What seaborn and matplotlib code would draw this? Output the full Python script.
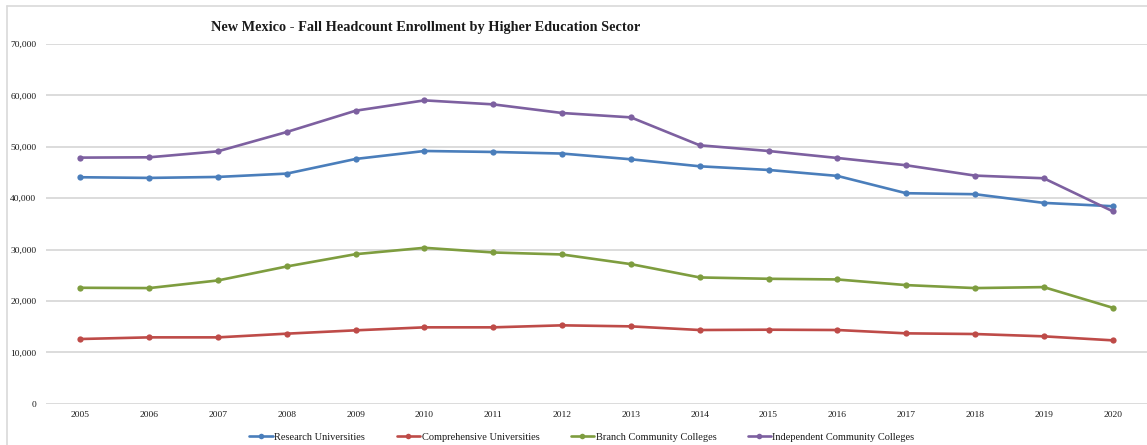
import numpy as np
import pandas as pd
import matplotlib
matplotlib.use("Agg")
import matplotlib.pyplot as plt
from matplotlib.lines import Line2D
import seaborn as sns

years = list(range(2005, 2021))
research = [44070, 43940, 44130, 44780, 47630, 49180, 48990, 48680, 47565, 46200,
            45490, 44330, 40960, 40770, 39080, 38430]
comprehensive = [12590, 12910, 12910, 13630, 14280, 14860, 14860, 15250, 15050, 14340,
                 14400, 14340, 13690, 13560, 13110, 12330]
branch = [22560, 22500, 23990, 26710, 29100, 30340, 29430, 29040, 27160, 24570,
          24310, 24180, 23080, 22500, 22690, 18680]
independent = [47890, 47950, 49120, 52880, 57020, 59030, 58250, 56570, 55720, 50290,
               49180, 47820, 46400, 44390, 43870, 37460]

sectors = ["Research Universities", "Comprehensive Universities",
           "Branch Community Colleges", "Independent Community Colleges"]
colors = ["#4A7EBB", "#BE4B48", "#7E9D3F", "#7D60A0"]
title = "New Mexico - Fall Headcount Enrollment by Higher Education Sector"

df = pd.DataFrame({
    "Year": years * 4,
    "Enrollment": research + comprehensive + branch + independent,
    "Sector": [s for s in sectors for _ in years],
})

sns.set_theme(style="white")
plt.rcParams["font.family"] = ["Liberation Serif", "DejaVu Serif"]

fig = plt.figure(figsize=(11.47, 4.45), dpi=100)
ax = fig.add_axes([46 / 1147, 1 - 403.7 / 445, (1147 - 46) / 1147, (403.7 - 44) / 445])

sns.lineplot(data=df, x="Year", y="Enrollment", hue="Sector", hue_order=sectors,
             palette=colors, marker="o", markersize=4.5, markeredgewidth=0,
             linewidth=1.9, ax=ax, legend=False)

ax.set_xlim(2004.5, 2020.5)
ax.set_ylim(0, 70000)
ax.set_yticks(range(0, 70001, 10000))
ax.set_yticklabels([f"{v:,}" for v in range(0, 70001, 10000)])
ax.set_xticks(years)
ax.set_xticklabels([str(y) for y in years])
ax.yaxis.grid(True, color="#d9d9d9", linewidth=1.3)
ax.xaxis.grid(False)
for s in ax.spines.values():
    s.set_visible(False)
ax.tick_params(axis="both", length=0, labelsize=6.8, colors="#1a1a1a")
ax.tick_params(axis="y", pad=7)
ax.tick_params(axis="x", pad=5)
ax.set_xlabel("")
ax.set_ylabel("")

fig.text(426 / 1147, 1 - 27 / 445, title, ha="center", va="center",
         fontsize=10.3, fontweight="bold", color="#1a1a1a")

handles = [Line2D([0], [0], color=c, marker="o", markersize=4, linewidth=1.9,
                  markeredgewidth=0) for c in colors]
fig.legend(handles, sectors, loc="center", bbox_to_anchor=(582 / 1147, 1 - 437 / 445),
           ncol=4, frameon=False, fontsize=7.5, handlelength=2.3, handletextpad=0.1,
           columnspacing=3.0, labelcolor="#1a1a1a")

# chart border (cropped screenshot)
fig.add_artist(Line2D([7 / 1147, 1], [1 - 6 / 445, 1 - 6 / 445], color="#d9d9d9",
                      linewidth=1.2, transform=fig.transFigure))
fig.add_artist(Line2D([7 / 1147, 7 / 1147], [0, 1 - 6 / 445], color="#d9d9d9",
                      linewidth=1.2, transform=fig.transFigure))

fig.savefig("out.png", dpi=100)
